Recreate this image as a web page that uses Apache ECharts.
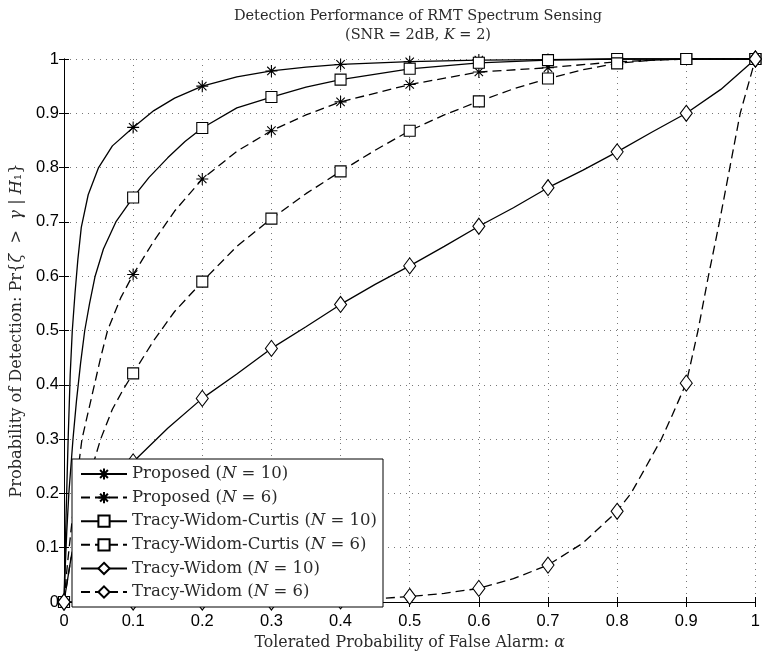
<!DOCTYPE html>
<html><head><meta charset="utf-8">
<script src="https://cdn.jsdelivr.net/npm/echarts@6/dist/echarts.min.js"></script>
<style>html,body{margin:0;padding:0;background:#fff}#c{width:763px;height:656px}</style>
</head><body><div id="c"></div>
<script>
// ---- data ----
const xTicks = [0,0.1,0.2,0.3,0.4,0.5,0.6,0.7,0.8,0.9,1];
const yTicks = [0,0.1,0.2,0.3,0.4,0.5,0.6,0.7,0.8,0.9,1];
const seriesNames = ['Proposed (N = 10)','Proposed (N = 6)','Tracy-Widom-Curtis (N = 10)','Tracy-Widom-Curtis (N = 6)','Tracy-Widom (N = 10)','Tracy-Widom (N = 6)'];

const p10X = [0,0.003,0.006,0.009,0.012,0.016,0.02,0.025,0.035,0.05,0.07,0.1,0.13,0.16,0.2,0.25,0.3,0.35,0.4,0.5,0.6,0.7,0.8,0.9,1];
const p10Y = [0,0.16,0.3,0.42,0.5,0.57,0.63,0.69,0.75,0.8,0.84,0.874,0.905,0.928,0.95,0.967,0.978,0.985,0.99,0.995,0.998,0.999,1,1,1];

const p6X = [0,0.005,0.01,0.018,0.026,0.035,0.044,0.053,0.063,0.082,0.1,0.13,0.16,0.2,0.25,0.3,0.35,0.4,0.5,0.6,0.7,0.8,0.9,1];
const p6Y = [0,0.07,0.13,0.22,0.3,0.35,0.4,0.45,0.5,0.56,0.603,0.665,0.72,0.779,0.83,0.868,0.897,0.921,0.953,0.976,0.984,0.995,1,1];

const twc10X = [0,0.002,0.004,0.007,0.01,0.013,0.018,0.024,0.03,0.037,0.045,0.057,0.075,0.1,0.123,0.15,0.175,0.2,0.25,0.3,0.35,0.4,0.5,0.6,0.7,0.8,0.9,1];
const twc10Y = [0,0.07,0.13,0.2,0.25,0.3,0.37,0.44,0.5,0.55,0.6,0.65,0.7,0.745,0.782,0.818,0.848,0.873,0.91,0.93,0.948,0.962,0.982,0.993,0.998,1,1,1];

const twc6X = [0,0.005,0.01,0.02,0.03,0.04,0.053,0.07,0.085,0.1,0.13,0.16,0.2,0.25,0.3,0.35,0.4,0.45,0.5,0.55,0.6,0.65,0.7,0.75,0.8,0.85,0.9,1];
const twc6Y = [0,0.04,0.08,0.15,0.2,0.245,0.3,0.355,0.39,0.421,0.482,0.535,0.59,0.655,0.706,0.752,0.793,0.832,0.868,0.897,0.922,0.945,0.964,0.98,0.992,0.998,1,1];

const tw10X = [0,0.01,0.03,0.06,0.1,0.108,0.15,0.2,0.25,0.3,0.35,0.4,0.45,0.5,0.55,0.6,0.65,0.7,0.75,0.8,0.85,0.9,0.95,1];
const tw10Y = [0,0.08,0.15,0.21,0.258,0.268,0.32,0.375,0.42,0.467,0.507,0.548,0.585,0.619,0.655,0.692,0.726,0.763,0.795,0.829,0.865,0.9,0.944,1];

const tw6X = [0,0.1,0.2,0.3,0.4,0.5,0.55,0.6,0.65,0.7,0.75,0.8,0.82,0.84,0.864,0.88,0.9,0.917,0.932,0.948,0.963,0.978,1];
const tw6Y = [0,0,0,0,0.002,0.01,0.016,0.025,0.043,0.068,0.108,0.167,0.2,0.245,0.3,0.345,0.403,0.5,0.6,0.7,0.8,0.9,1];

// ---- styling ----
const serifF = 'DejaVu Serif';
const sansF = 'Liberation Sans';
const STAR = 'path://M10,0L10,20M0,10L20,10M3,3L17,17M3,17L17,3';

function build(xs, ys) {
  return xs.map((x, i) => {
    const onTick = Math.abs(x * 10 - Math.round(x * 10)) < 1e-9;
    return onTick ? [x, ys[i]] : { value: [x, ys[i]], symbol: 'none' };
  });
}
function mk(name, xs, ys, dashed, sym) {
  const s = {
    name: name, type: 'line', data: build(xs, ys), clip: false,
    showAllSymbol: true, smooth: false,
    lineStyle: { color: '#000', width: 1.3, type: dashed ? [9, 5] : 'solid' },
    emphasis: { disabled: true }
  };
  if (sym === 'star') {
    s.symbol = STAR; s.symbolSize = 12;
    s.itemStyle = { color: '#000', borderColor: '#000', borderWidth: 1.1 };
  } else if (sym === 'square') {
    s.symbol = 'rect'; s.symbolSize = 11;
    s.itemStyle = { color: '#fff', borderColor: '#000', borderWidth: 1.1 };
  } else {
    s.symbol = 'diamond'; s.symbolSize = [12, 16];
    s.itemStyle = { color: '#fff', borderColor: '#000', borderWidth: 1.1 };
  }
  return s;
}

const series = [
  mk(seriesNames[0], p10X, p10Y, false, 'star'),
  mk(seriesNames[1], p6X, p6Y, true, 'star'),
  mk(seriesNames[2], twc10X, twc10Y, false, 'square'),
  mk(seriesNames[3], twc6X, twc6Y, true, 'square'),
  mk(seriesNames[4], tw10X, tw10Y, false, 'diamond'),
  mk(seriesNames[5], tw6X, tw6Y, true, 'diamond')
];

const axisCommon = {
  type: 'value', min: 0, max: 1, interval: 0.1,
  axisLine: { show: true, lineStyle: { color: '#000', width: 1 } },
  axisTick: { show: true, inside: true, length: 5, lineStyle: { color: '#000' } }
};
const txt = '#2a2a2a';

const chart = echarts.init(document.getElementById('c'), null, { renderer: 'canvas' });
chart.setOption({
  animation: false,
  backgroundColor: '#fff',
  title: {
    text: 'Detection Performance of RMT Spectrum Sensing\n(SNR = 2dB, {i|K} = 2)',
    left: 413, top: 2, textAlign: 'center',
    textStyle: {
      fontFamily: serifF, fontSize: 14.5, fontWeight: 'normal', color: txt, lineHeight: 19,
      rich: { i: { fontFamily: serifF, fontSize: 14.5, fontStyle: 'italic', color: txt, lineHeight: 19 } }
    }
  },
  grid: { left: 64, right: 2, top: 59, bottom: 49, containLabel: false },
  legend: {
    data: seriesNames, orient: 'vertical', left: 72, top: 459,
    backgroundColor: '#fff', borderColor: '#000', borderWidth: 1, borderRadius: 0,
    padding: [6.5, 6, 6.5, 8], itemWidth: 46, itemHeight: 14, itemGap: 6.6,
    selectedMode: false,
    formatter: n => n.replace('(N', '({i|N}'),
    textStyle: {
      fontFamily: serifF, fontSize: 16.5, color: txt, lineHeight: 16,
      rich: { i: { fontFamily: serifF, fontSize: 16.5, fontStyle: 'italic', color: txt, lineHeight: 16 } }
    }
  },
  xAxis: [
    Object.assign({}, axisCommon, {
      position: 'bottom',
      name: 'Tolerated Probability of False Alarm: {i|α}', nameLocation: 'middle', nameGap: 33,
      nameTextStyle: { fontFamily: serifF, fontSize: 15.8, color: txt,
        rich: { i: { fontFamily: serifF, fontSize: 15.8, fontStyle: 'italic', color: txt } } },
      axisLabel: { show: true, color: '#000', fontFamily: sansF, fontSize: 16.5, margin: 11,
        formatter: v => String(+v.toFixed(1)) },
      splitLine: { show: true, lineStyle: { color: '#777', type: [1, 5], width: 1 } }
    }),
    Object.assign({}, axisCommon, {
      position: 'top', axisLabel: { show: false }, splitLine: { show: false }
    })
  ],
  yAxis: [
    Object.assign({}, axisCommon, {
      position: 'left',
      name: 'Probability of Detection: Pr{{i|ζ}  >  {i|γ} | {i|H}₁}', nameLocation: 'middle', nameGap: 36,
      nameTextStyle: { fontFamily: serifF, fontSize: 16.2, color: txt,
        rich: { i: { fontFamily: serifF, fontSize: 16.2, fontStyle: 'italic', color: txt } } },
      axisLabel: { show: true, color: '#000', fontFamily: sansF, fontSize: 16.5, margin: 5,
        formatter: v => String(+v.toFixed(1)) },
      splitLine: { show: true, lineStyle: { color: '#777', type: [1, 5], width: 1 } }
    }),
    Object.assign({}, axisCommon, {
      position: 'right', axisLabel: { show: false }, splitLine: { show: false }
    })
  ],
  series: series
});
</script></body></html>
